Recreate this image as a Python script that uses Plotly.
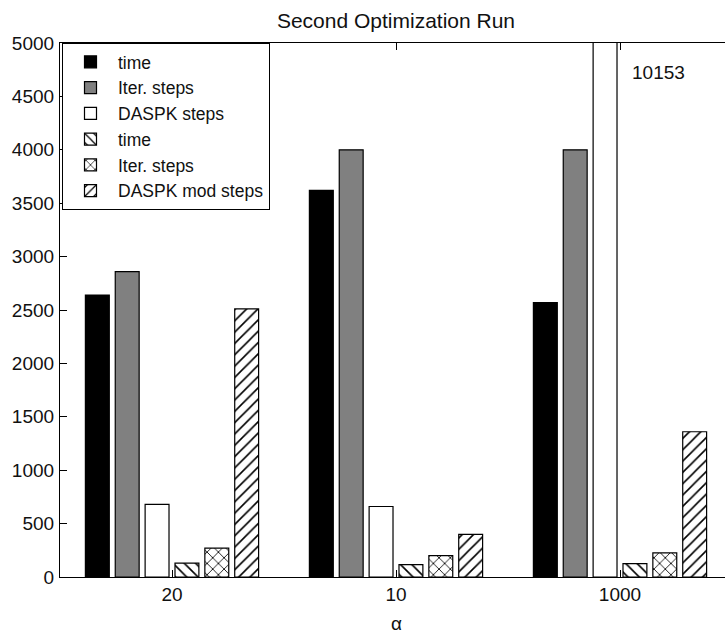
import plotly.graph_objects as go

# ---- data ----
categories = ["20", "10", "1000"]
time_vals = [2640, 3620, 2570]
iter_vals = [2860, 4000, 4000]
daspk_vals = [680, 660, 10153]
time_mod_vals = [130, 115, 125]
iter_mod_vals = [270, 200, 225]
daspk_mod_vals = [2510, 400, 1360]
y_ticks = list(range(0, 5001, 500))

# the axes box runs past the right edge of the 725 px window, as in the reference
W, H = 900, 633
L, T, B = 60, 43, 56
plot_w = 672
R = W - L - plot_w
x_range = [-0.5, 2.5]
unit_px = plot_w / (x_range[1] - x_range[0])

FONT = "Liberation Sans"
TXT = "#111"
line = dict(color="black", width=1.2)


def pat(shape):
    return dict(shape=shape, fgcolor="black", bgcolor="white", size=8, solidity=0.2)


fig = go.Figure()
fig.add_trace(go.Bar(x=categories, y=time_vals, name="time",
                     marker=dict(color="black", line=line)))
fig.add_trace(go.Bar(x=categories, y=iter_vals, name="Iter. steps",
                     marker=dict(color="#808080", line=line)))
fig.add_trace(go.Bar(x=categories, y=daspk_vals, name="DASPK steps",
                     marker=dict(color="white", line=line)))
fig.add_trace(go.Bar(x=categories, y=time_mod_vals, name="time",
                     marker=dict(color="white", line=line, pattern=pat("\\"))))
fig.add_trace(go.Bar(x=categories, y=iter_mod_vals, name="Iter. steps",
                     marker=dict(color="white", line=line, pattern=pat("x"))))
fig.add_trace(go.Bar(x=categories, y=daspk_mod_vals, name="DASPK mod steps",
                     marker=dict(color="white", line=line, pattern=pat("/"))))

# label for the clipped bar
fig.add_annotation(x=2 + 10 / unit_px, y=4720, xref="x", yref="y",
                   text=str(daspk_vals[2]), showarrow=False, xanchor="left",
                   yanchor="middle", font=dict(family=FONT, size=19, color=TXT))

# x-axis label (alpha)
fig.add_annotation(x=1, y=0, xref="x", yref="paper", text="α", showarrow=False,
                   xanchor="center", yanchor="middle", yshift=-46,
                   font=dict(family=FONT, size=19, color=TXT))

fig.update_layout(
    template="none",
    width=W, height=H,
    margin=dict(l=L, r=R, t=T, b=B, autoexpand=False),
    paper_bgcolor="white", plot_bgcolor="white",
    barmode="group", bargap=0.2, bargroupgap=0.2,
    font=dict(family=FONT, size=19, color=TXT),
    title=dict(text="Second Optimization Run", x=0.5, xanchor="center",
               xref="paper", y=1 - 21 / H, yanchor="middle", yref="container",
               font=dict(family=FONT, size=21, color=TXT)),
    legend=dict(x=2 / plot_w, y=1, xanchor="left", yanchor="top",
                bgcolor="white", bordercolor="black", borderwidth=1,
                font=dict(family=FONT, size=17.5, color=TXT),
                itemwidth=45,
                traceorder="normal", tracegroupgap=0),
    showlegend=True,
)
fig.update_xaxes(type="category", range=x_range, showline=True, linecolor="black",
                 linewidth=1.2, mirror="ticks", ticks="inside", ticklen=7,
                 tickcolor="black", showgrid=False, zeroline=False, automargin=False,
                 tickfont=dict(family=FONT, size=19, color=TXT))
fig.update_yaxes(range=[0, 5000], tickvals=y_ticks, ticktext=[str(v) for v in y_ticks],
                 showline=True, linecolor="black", linewidth=1.2, mirror="ticks",
                 ticks="inside", ticklen=7, tickcolor="black", showgrid=False,
                 zeroline=False, ticklabelstandoff=1, automargin=False,
                 tickfont=dict(family=FONT, size=19, color=TXT))

fig.write_html("out.html", config={"displayModeBar": False},
               post_script="document.body.style.margin='0';document.body.style.overflow='hidden';")
